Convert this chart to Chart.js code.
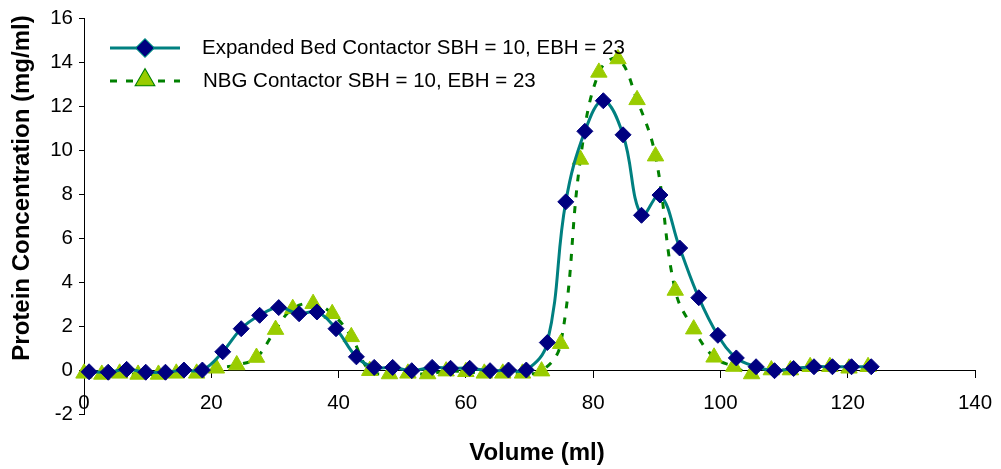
<!DOCTYPE html>
<html>
<head>
<meta charset="utf-8">
<script src="https://cdn.jsdelivr.net/npm/chart.js@4"></script>
<style>
  html, body { margin: 0; padding: 0; background: #fff; }
  #wrap { width: 1001px; height: 469px; }
</style>
</head>
<body>
<div id="wrap"><canvas id="elutionChart" width="1001" height="469"></canvas></div>
<script>
// ===== DATA =====
const seriesNames = [
    'Expanded Bed Contactor SBH = 10, EBH = 23',
    'NBG Contactor SBH = 10, EBH = 23'
];

const ebVolume = [0.8, 3.8, 6.7, 9.7, 12.8, 15.7, 18.6, 21.8, 24.7, 27.6, 30.6, 33.8, 36.6, 39.6,
    42.8, 45.6, 48.5, 51.5, 54.7, 57.6, 60.6, 63.8, 66.7, 69.5, 72.8, 75.7, 78.7, 81.6,
    84.7, 87.6, 90.5, 93.6, 96.6, 99.6, 102.5, 105.6, 108.5, 111.5, 114.7, 117.6, 120.6, 123.7];
const ebConc = [-0.08, -0.1, 0.03, -0.1, -0.1, 0, 0, 0.83, 1.88, 2.49, 2.84, 2.56, 2.64, 1.88,
    0.6, 0.12, 0.12, -0.03, 0.12, 0.08, 0.08, -0.03, 0, 0, 1.25, 7.65, 10.86, 12.25,
    10.7, 7.04, 7.96, 5.55, 3.29, 1.58, 0.55, 0.15, -0.03, 0.07, 0.15, 0.15, 0.15, 0.15];

const nbgVolume = [0, 2.8, 5.6, 8.5, 11.7, 14.5, 17.7, 20.8, 24.0, 27.1, 30.1, 32.8, 36.0, 39.0,
    42.0, 44.9, 48.0, 50.9, 54.0, 56.9, 60.0, 62.9, 65.8, 68.9, 71.9, 74.9, 78.0, 80.9,
    83.9, 86.9, 89.8, 92.9, 95.8, 99.0, 102.1, 104.9, 108.0, 111.0, 114.1, 117.2, 120.2, 123.2];
const nbgConc = [-0.15, -0.2, -0.15, -0.2, -0.2, -0.15, -0.15, 0.08, 0.23, 0.57, 1.84, 2.79, 3.02, 2.56,
    1.51, -0.03, -0.18, -0.15, -0.18, -0.05, -0.08, -0.15, -0.15, -0.15, -0.05, 1.2, 9.58, 13.54,
    14.15, 12.29, 9.73, 3.62, 1.86, 0.58, 0.16, -0.18, 0, 0, 0.15, 0.15, 0.08, 0.15];

const xTitle = 'Volume (ml)';
const yTitle = 'Protein Concentration (mg/ml)';

const FONT = '"Liberation Sans", Arial, sans-serif';

const toPoints = (xs, ys) => xs.map((x, i) => ({ x, y: ys[i] }));

// ===== LEGEND + AXIS TITLES =====
const decorPlugin = {
    id: 'decor',
    afterDraw(chart) {
        const c = chart.ctx;
        const ds = chart.data.datasets;
        c.save();

        // legend rows
        const rows = [
            { y: 48, textX: 202 },
            { y: 81, textX: 203 }
        ];
        rows.forEach((row, i) => {
            const d = ds[i];
            c.beginPath();
            c.strokeStyle = d.borderColor;
            c.lineWidth = d.borderWidth;
            c.setLineDash(d.borderDash || []);
            c.moveTo(110, row.y);
            c.lineTo(180, row.y);
            c.stroke();
            c.setLineDash([]);
            Chart.helpers.drawPoint(c, {
                pointStyle: d.pointStyle,
                radius: d.pointRadius,
                borderWidth: 1
            }, 145, i === 1 ? row.y - 1 : row.y);
            c.fillStyle = d.pointBackgroundColor;
            c.strokeStyle = d.pointBorderColor;
            c.lineWidth = 1;
            c.fill();
            c.stroke();

            c.fillStyle = '#000';
            c.font = '20.5px ' + FONT;
            c.textAlign = 'left';
            c.textBaseline = 'middle';
            c.fillText(seriesNames[i], row.textX, row.y);
        });

        // axis titles
        c.fillStyle = '#000';
        c.font = 'bold 24px ' + FONT;
        c.textAlign = 'center';
        c.textBaseline = 'middle';
        c.fillText(xTitle, 537, 453);

        c.translate(22, 188);
        c.rotate(-Math.PI / 2);
        c.fillText(yTitle, 0, 0);
        c.restore();
    }
};

// ===== ELUTION CHART =====
const renderElutionChart = () => {
    const ctx = document.getElementById('elutionChart');

    new Chart(ctx, {
        type: 'line',
        data: {
            datasets: [{
                label: seriesNames[0],
                data: toPoints(ebVolume, ebConc),
                borderColor: '#008080',
                borderWidth: 3,
                tension: 0.4,
                pointStyle: 'rectRot',
                pointRadius: 8,
                pointBackgroundColor: '#000080',
                pointBorderColor: '#000080',
                pointBorderWidth: 1,
                clip: false
            }, {
                label: seriesNames[1],
                data: toPoints(nbgVolume, nbgConc),
                borderColor: '#008000',
                borderWidth: 3,
                borderDash: [7, 9],
                tension: 0.4,
                pointStyle: 'triangle',
                pointRadius: 9.5,
                pointBackgroundColor: '#99CC00',
                pointBorderColor: '#99CC00',
                pointBorderWidth: 1,
                clip: false
            }]
        },
        options: {
            responsive: false,
            animation: false,
            devicePixelRatio: 1,
            layout: { padding: { left: 0, right: 26, top: 16, bottom: 55 } },
            plugins: {
                legend: { display: false },
                tooltip: { enabled: false }
            },
            scales: {
                x: {
                    type: 'linear',
                    min: 0,
                    max: 140,
                    position: { y: 0 },
                    ticks: {
                        stepSize: 20,
                        color: '#000',
                        padding: 14,
                        font: { family: FONT, size: 20.5 }
                    },
                    grid: {
                        drawOnChartArea: false,
                        tickLength: 7,
                        color: '#000'
                    },
                    border: { color: '#000', width: 1 },
                    afterFit: (scale) => {
                        scale.paddingLeft = 0;
                        scale.paddingRight = 0;
                    }
                },
                y: {
                    min: -2,
                    max: 16,
                    ticks: {
                        stepSize: 2,
                        color: '#000',
                        padding: 6,
                        font: { family: FONT, size: 20.5 }
                    },
                    grid: {
                        drawOnChartArea: false,
                        tickLength: 5,
                        color: '#000'
                    },
                    border: { color: '#000', width: 1 },
                    afterFit: (scale) => { scale.width = 84; }
                }
            }
        },
        plugins: [decorPlugin]
    });
};

renderElutionChart();
</script>
</body>
</html>
